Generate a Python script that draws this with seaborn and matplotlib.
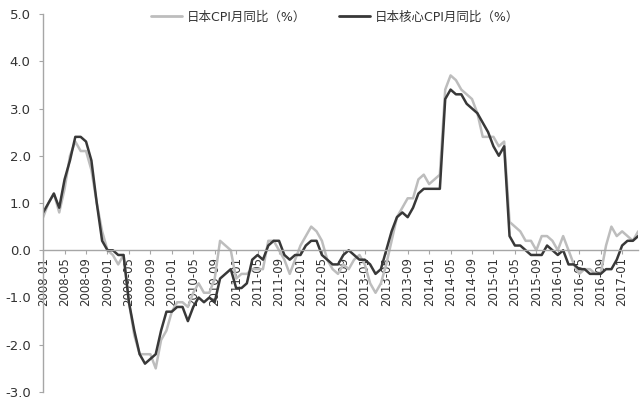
import matplotlib
matplotlib.use("Agg")
import matplotlib.pyplot as plt
import numpy as np
import pandas as pd
import seaborn as sns

# monthly series 2008-01 .. 2017-04
months = pd.date_range("2008-01-01", "2017-04-01", freq="MS").strftime("%Y-%m").tolist()

cpi = [
    0.7, 1.0, 1.2, 0.8, 1.3, 2.0, 2.3, 2.1, 2.1, 1.7, 1.0, 0.4,
    0.0, -0.1, -0.3, -0.1, -1.1, -1.8, -2.2, -2.2, -2.2, -2.5, -1.9, -1.7,
    -1.3, -1.1, -1.1, -1.2, -0.9, -0.7, -0.9, -0.9, -0.6, 0.2, 0.1, 0.0,
    -0.6, -0.5, -0.5, -0.4, -0.4, -0.4, 0.2, 0.2, 0.0, -0.2, -0.5, -0.2,
    0.1, 0.3, 0.5, 0.4, 0.2, -0.2, -0.4, -0.5, -0.3, -0.4, -0.2, -0.1,
    -0.3, -0.7, -0.9, -0.7, -0.3, 0.2, 0.7, 0.9, 1.1, 1.1, 1.5, 1.6,
    1.4, 1.5, 1.6, 3.4, 3.7, 3.6, 3.4, 3.3, 3.2, 2.9, 2.4, 2.4,
    2.4, 2.2, 2.3, 0.6, 0.5, 0.4, 0.2, 0.2, 0.0, 0.3, 0.3, 0.2,
    0.0, 0.3, 0.0, -0.3, -0.5, -0.4, -0.4, -0.5, -0.5, 0.1, 0.5, 0.3,
    0.4, 0.3, 0.2, 0.4,
]

core_cpi = [
    0.8, 1.0, 1.2, 0.9, 1.5, 1.9, 2.4, 2.4, 2.3, 1.9, 1.0, 0.2,
    0.0, 0.0, -0.1, -0.1, -1.1, -1.7, -2.2, -2.4, -2.3, -2.2, -1.7, -1.3,
    -1.3, -1.2, -1.2, -1.5, -1.2, -1.0, -1.1, -1.0, -1.1, -0.6, -0.5, -0.4,
    -0.8, -0.8, -0.7, -0.2, -0.1, -0.2, 0.1, 0.2, 0.2, -0.1, -0.2, -0.1,
    -0.1, 0.1, 0.2, 0.2, -0.1, -0.2, -0.3, -0.3, -0.1, 0.0, -0.1, -0.2,
    -0.2, -0.3, -0.5, -0.4, 0.0, 0.4, 0.7, 0.8, 0.7, 0.9, 1.2, 1.3,
    1.3, 1.3, 1.3, 3.2, 3.4, 3.3, 3.3, 3.1, 3.0, 2.9, 2.7, 2.5,
    2.2, 2.0, 2.2, 0.3, 0.1, 0.1, 0.0, -0.1, -0.1, -0.1, 0.1, 0.0,
    -0.1, 0.0, -0.3, -0.3, -0.4, -0.4, -0.5, -0.5, -0.5, -0.4, -0.4, -0.2,
    0.1, 0.2, 0.2, 0.3,
]

series_names = ["日本CPI月同比（%）", "日本核心CPI月同比（%）"]
colors = ["#BDBDBD", "#383838"]

sns.set_style("white")
plt.rcParams["font.family"] = ["DejaVu Sans", "Noto Sans CJK SC"]

n = len(months)
df = pd.DataFrame({
    "idx": list(range(n)) * 2,
    "value": cpi + core_cpi,
    "series": [series_names[0]] * n + [series_names[1]] * n,
})

fig, ax = plt.subplots(figsize=(6.44, 4.0), dpi=100)
fig.subplots_adjust(left=0.067, right=0.991, bottom=0.02, top=0.965)

sns.lineplot(data=df, x="idx", y="value", hue="series", hue_order=series_names,
             palette=colors, linewidth=1.8, ax=ax, legend=False)

# move the x axis to y=0 first (this resets the tick objects)
for s in ["top", "right"]:
    ax.spines[s].set_visible(False)
ax.spines["bottom"].set_position(("data", 0))
for s in ["left", "bottom"]:
    ax.spines[s].set_color("#A6A6A6")
    ax.spines[s].set_linewidth(1.0)

ax.set_xlim(0, n - 1)
ax.set_ylim(-3, 5)
yt = np.arange(-3, 5.01, 1)
ax.set_yticks(yt)
ax.set_yticklabels([f"{v:.1f}" for v in yt])
ax.set_xticks(range(0, n, 4))
ax.set_xticklabels(months[::4])
ax.set_xlabel("")
ax.set_ylabel("")

ax.tick_params(axis="y", direction="out", length=3, width=0.8, color="#A6A6A6",
               pad=6, labelsize=9.5, labelcolor="#333333", left=True)
ax.tick_params(axis="x", direction="out", length=3, width=0.8, color="#A6A6A6",
               pad=2, labelsize=8.5, labelcolor="#333333", bottom=True,
               labelrotation=90)

handles = [plt.Line2D([], [], color=c, linewidth=2) for c in colors]
ax.legend(handles, series_names, loc="center", bbox_to_anchor=(0.52, 0.957),
          bbox_transform=fig.transFigure, ncol=2, frameon=False, fontsize=9,
          handlelength=2.5, columnspacing=2.6, handletextpad=0.4,
          labelcolor="#333333")

fig.savefig("out.png", dpi=100)
